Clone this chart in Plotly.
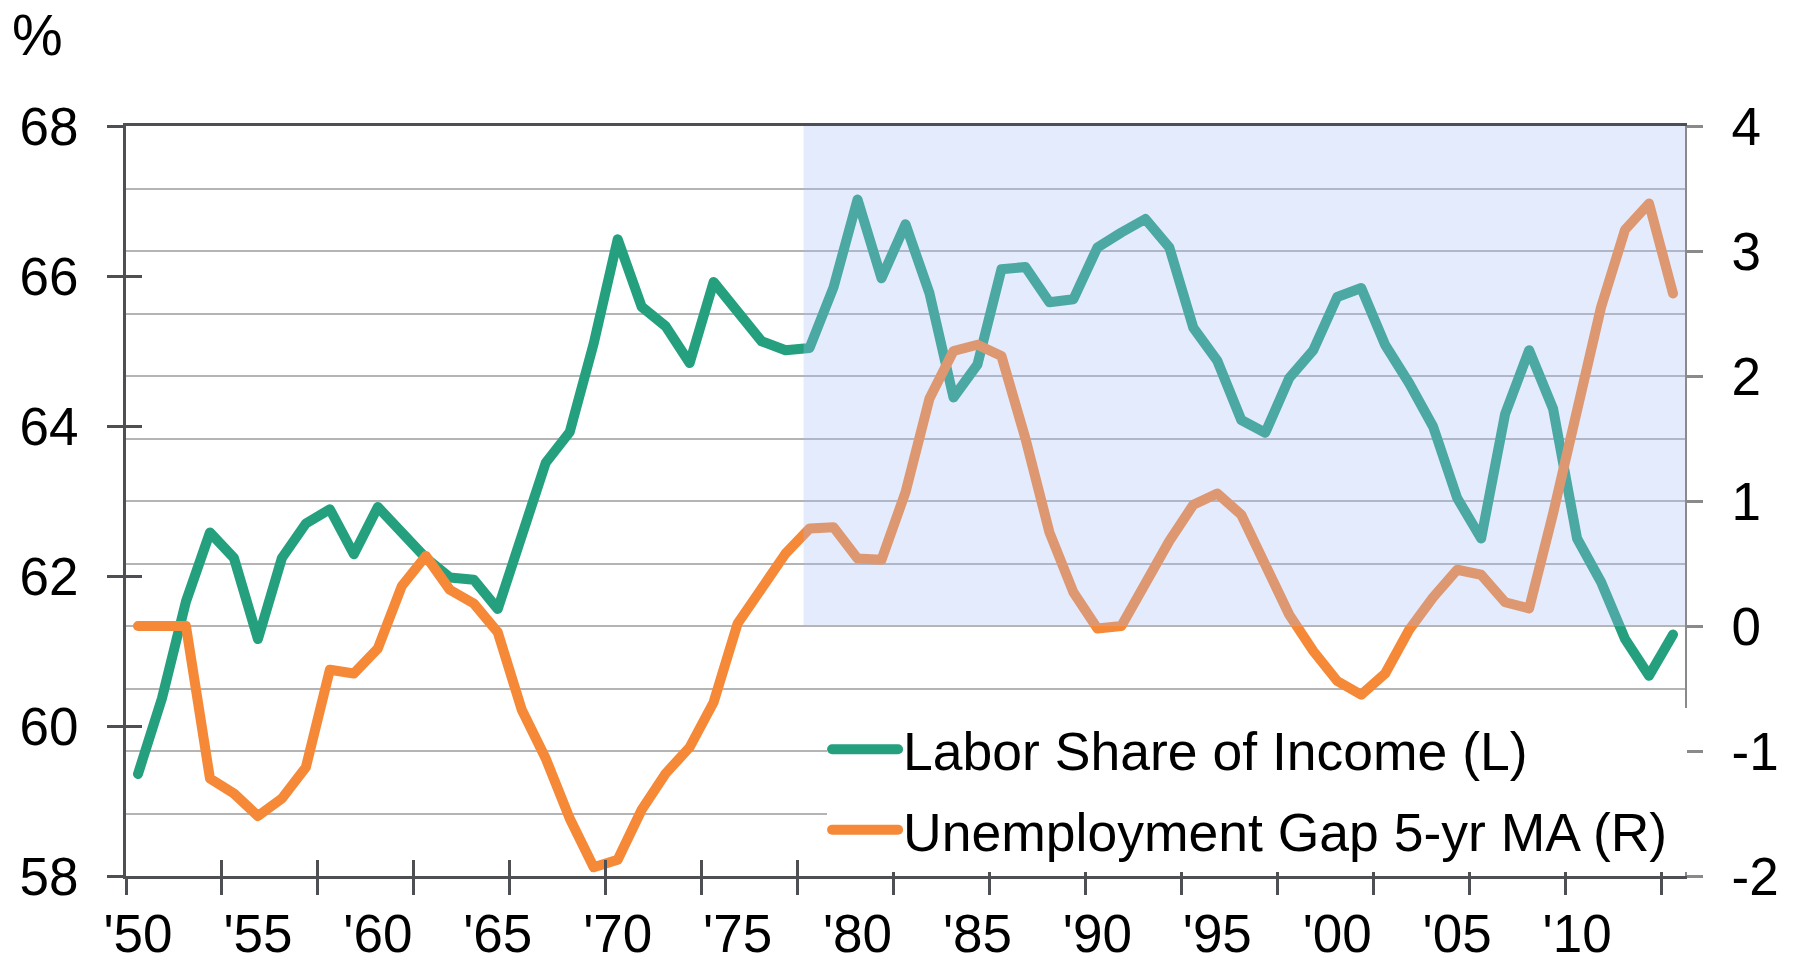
import plotly.graph_objects as go

years = list(range(1950, 2015))

labor_share = [
    59.36, 60.37, 61.66, 62.58, 62.24, 61.16, 62.24, 62.70, 62.89, 62.29,
    62.92, 62.60, 62.24, 61.98, 61.95, 61.56, 62.53, 63.51, 63.92, 65.10,
    66.49, 65.59, 65.33, 64.84, 65.92, 65.50, 65.13, 65.01, 65.04, 65.85,
    67.02, 65.97, 66.69, 65.77, 64.38, 64.82, 66.09, 66.12, 65.65, 65.69,
    66.38, 66.58, 66.76, 66.38, 65.31, 64.87, 64.08, 63.91, 64.64, 65.01,
    65.72, 65.84, 65.08, 64.57, 63.99, 63.04, 62.50, 64.16, 65.01, 64.23,
    62.50, 61.92, 61.16, 60.67, 61.22,
]

unemp_gap = [
    0.00, 0.00, 0.00, -1.22, -1.34, -1.52, -1.38, -1.13, -0.35, -0.38,
    -0.18, 0.32, 0.56, 0.29, 0.18, -0.05, -0.67, -1.06, -1.54, -1.93,
    -1.87, -1.47, -1.18, -0.97, -0.61, 0.02, 0.30, 0.58, 0.78, 0.79,
    0.54, 0.53, 1.07, 1.82, 2.20, 2.25, 2.16, 1.50, 0.75, 0.27,
    -0.02, 0.00, 0.34, 0.68, 0.97, 1.06, 0.89, 0.48, 0.09, -0.20,
    -0.44, -0.55, -0.38, -0.03, 0.23, 0.45, 0.41, 0.19, 0.14, 0.90,
    1.76, 2.55, 3.17, 3.38, 2.66,
]

series_names = ["Labor Share of Income (L)", "Unemployment Gap 5-yr MA (R)"]

label_years = list(range(1950, 2015, 5))
label_text = ["'" + str(y)[2:] for y in label_years]
boundary_ticks = [1949.5 + 4 * k for k in range(17)]
left_ticks = [58, 60, 62, 64, 66, 68]
right_ticks = [-2, -1, 0, 1, 2, 3, 4]
right_text = [str(v) for v in right_ticks]  # plain hyphen minus

SHADE_START = 1977.75
X_RANGE = [1949.5, 2014.5]

GREEN = "#24A07E"
ORANGE = "#F58938"
AXIS_DARK = "#4D4F53"
FONT = "Liberation Sans, Arial, sans-serif"
TICK_SIZE = 53

fig = go.Figure()
fig.add_trace(go.Scatter(
    x=years, y=labor_share, name=series_names[0],
    mode="lines", line=dict(color=GREEN, width=10), yaxis="y",
    legendgroup="a",
))
fig.add_trace(go.Scatter(
    x=years, y=unemp_gap, name=series_names[1] + "\u00a0",
    mode="lines", line=dict(color=ORANGE, width=10), yaxis="y2",
    legendgroup="b",
))
# empty trace to carry inside tick marks
fig.add_trace(go.Scatter(x=[], y=[], xaxis="x3", yaxis="y3",
                         showlegend=False, hoverinfo="skip"))

fig.add_shape(type="rect", xref="x", yref="y2",
              x0=SHADE_START, x1=X_RANGE[1], y0=0, y1=4,
              fillcolor="rgba(165,188,250,0.30)", line=dict(width=0),
              layer="above")

fig.add_annotation(text="%", xref="paper", yref="paper",
                   x=-0.057, y=1.1213, xanchor="center", yanchor="middle",
                   showarrow=False, font=dict(size=57, color="black", family=FONT))

fig.update_layout(
    width=1795, height=962,
    margin=dict(l=126, r=110, t=126, b=86, autoexpand=False),
    paper_bgcolor="white", plot_bgcolor="white",
    font=dict(family=FONT, size=TICK_SIZE, color="black"),
    showlegend=True,
    legend=dict(
        x=0.4497, y=0.224, xanchor="left", yanchor="top",
        bgcolor="white", borderwidth=0,
        font=dict(size=53.5, family=FONT, color="black"),
        tracegroupgap=8, itemwidth=66,
    ),
    xaxis=dict(
        range=X_RANGE, tickmode="array", tickvals=label_years, ticktext=label_text,
        ticks="", showgrid=False, zeroline=False, automargin=False,
        showline=True, linecolor=AXIS_DARK, linewidth=3, mirror=True,
        ticklabelstandoff=9,
        minor=dict(tickmode="array", tickvals=boundary_ticks, ticks="outside",
                   ticklen=16, tickwidth=2.5, tickcolor=AXIS_DARK, showgrid=False),
    ),
    xaxis3=dict(
        range=X_RANGE, overlaying="x", anchor="y", automargin=False,
        tickmode="array", tickvals=boundary_ticks, ticks="inside",
        ticklen=16, tickwidth=2.5, tickcolor=AXIS_DARK,
        showticklabels=False, showgrid=False, zeroline=False, showline=False,
    ),
    yaxis=dict(
        range=[58, 68], tickmode="array", tickvals=left_ticks,
        ticks="outside", ticklen=16, tickwidth=2.5, tickcolor=AXIS_DARK,
        showgrid=False, zeroline=False, automargin=False,
        showline=True, linecolor=AXIS_DARK, linewidth=3,
        ticklabelstandoff=18,
    ),
    yaxis3=dict(
        range=[58, 68], overlaying="y", anchor="x", side="left", automargin=False,
        tickmode="array", tickvals=left_ticks, ticks="inside",
        ticklen=16, tickwidth=2.5, tickcolor=AXIS_DARK,
        showticklabels=False, showgrid=False, zeroline=False, showline=False,
    ),
    yaxis2=dict(
        range=[-2, 4], overlaying="y", side="right", anchor="x", automargin=False,
        tickmode="array", tickvals=right_ticks, ticktext=right_text,
        ticks="outside", ticklen=16, tickwidth=2.5, tickcolor="#8A8A8A",
        showgrid=True, gridcolor="#B4B4B4", gridwidth=1.5, zeroline=False,
        showline=True, linecolor="#8A8A8A", linewidth=2,
        ticklabelstandoff=18,
        minor=dict(dtick=0.5, tick0=0, showgrid=True, gridcolor="#B4B4B4",
                   gridwidth=1.5, ticks=""),
    ),
)

post_js = (
    "document.body.style.margin='0';"
    "document.body.style.overflow='hidden';"
    "var st=document.createElement('style');"
    "st.textContent='.scatterlayer .js-line, .legendlines path"
    "{stroke-linejoin:round !important;stroke-linecap:round !important;}';"
    "document.head.appendChild(st);"
)

fig.write_html("out.html", config={"displayModeBar": False}, post_script=post_js)
